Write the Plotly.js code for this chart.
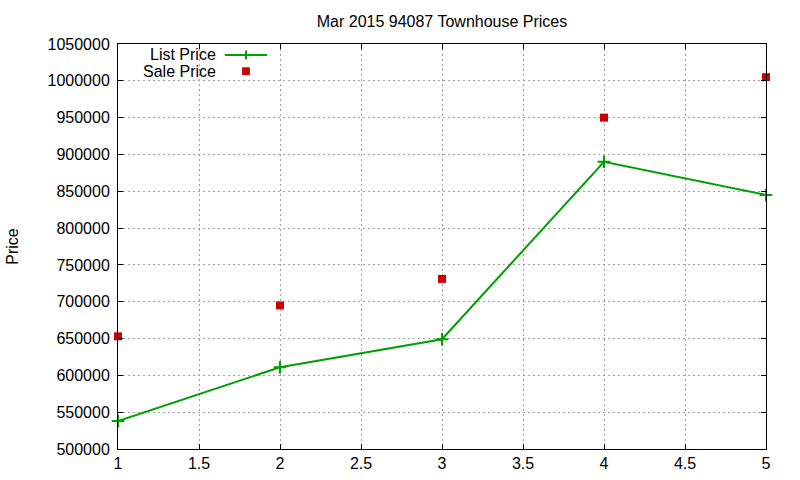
<!DOCTYPE html>
<html>
<head>
<meta charset="utf-8">
<script src="https://cdn.plot.ly/plotly-3.0.1.min.js"></script>
<style>html,body{margin:0;padding:0;background:#fff;}#chart{width:800px;height:480px;}</style>
</head>
<body>
<div id="chart"></div>
<script>
const xValues = [1, 2, 3, 4, 5];
const listPrice = [538000, 611000, 649000, 890000, 845000];
const salePrice = [653000, 695000, 731000, 950000, 1005000];
const seriesNames = ["List Price", "Sale Price"];
const chartTitle = "Mar 2015 94087 Townhouse Prices";
const yTitle = "Price";

const FONT = "Liberation Sans, Arial, sans-serif";
const FS = 16;
const GREEN = "#00a000";
const RED = "#cc0000";

const traces = [
  {
    x: xValues, y: listPrice, name: seriesNames[0], type: "scatter", mode: "lines+markers",
    line: {color: GREEN, width: 2},
    marker: {symbol: "cross-thin", size: 9, line: {color: GREEN, width: 2}, color: GREEN},
    cliponaxis: false, showlegend: false
  },
  {
    x: xValues, y: salePrice, name: seriesNames[1], type: "scatter", mode: "markers",
    marker: {symbol: "square", size: 8, color: RED},
    cliponaxis: false, showlegend: false
  }
];

const axisCommon = {
  showline: true, linecolor: "#000", linewidth: 1, mirror: "allticks",
  ticks: "inside", ticklen: 5, tickcolor: "#000", tickwidth: 1,
  showgrid: true, gridcolor: "#a0a0a0", gridwidth: 1, griddash: "2px,3px",
  zeroline: false, tickfont: {family: FONT, size: FS, color: "#000"}
};

const legX = 0.154, legY1 = 0.973, legY2 = 0.933;
const layout = {
  width: 800, height: 480,
  margin: {l: 118, r: 34, t: 44, b: 31},
  paper_bgcolor: "#fff", plot_bgcolor: "#fff",
  font: {family: FONT, size: FS, color: "#000"},
  title: {text: chartTitle, x: 0.5525, xanchor: "center", y: 0.956, yanchor: "middle",
          font: {family: FONT, size: FS, color: "#000"}},
  xaxis: Object.assign({}, axisCommon, {range: [1, 5], dtick: 0.5, tick0: 1, tickformat: "~g"}),
  yaxis: Object.assign({}, axisCommon, {range: [500000, 1050000], dtick: 50000, tick0: 500000,
          tickformat: "d", ticklabelstandoff: 4,
          title: {text: yTitle, standoff: 24, font: {family: FONT, size: FS, color: "#000"}}}),
  annotations: [
    {xref: "paper", yref: "paper", x: legX, y: legY1, xanchor: "right", yanchor: "middle",
     text: seriesNames[0], showarrow: false, font: {family: FONT, size: FS, color: "#000"}},
    {xref: "paper", yref: "paper", x: legX, y: legY2, xanchor: "right", yanchor: "middle",
     text: seriesNames[1], showarrow: false, font: {family: FONT, size: FS, color: "#000"}}
  ],
  shapes: [
    {type: "line", xref: "paper", yref: "paper", x0: 0.165, x1: 0.23, y0: legY1, y1: legY1,
     line: {color: GREEN, width: 2}},
    {type: "line", xref: "paper", yref: "paper", x0: 0.1975, x1: 0.1975, y0: legY1 - 0.011, y1: legY1 + 0.011,
     line: {color: GREEN, width: 2}},
    {type: "rect", xref: "paper", yref: "paper", x0: 0.1915, x1: 0.2035, y0: legY2 - 0.0095, y1: legY2 + 0.0095,
     fillcolor: RED, line: {width: 0}}
  ]
};

Plotly.newPlot("chart", traces, layout, {displayModeBar: false, staticPlot: true});
</script>
</body>
</html>
